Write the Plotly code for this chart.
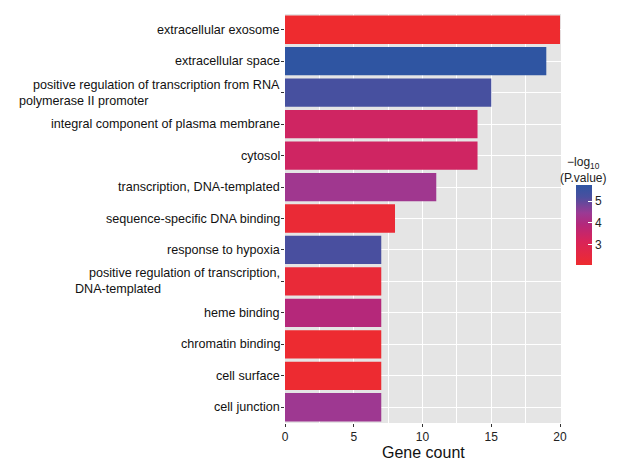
import plotly.graph_objects as go

terms = [
    "extracellular exosome",
    "extracellular space",
    "positive regulation of transcription from RNA<br>polymerase II promoter",
    "integral component of plasma membrane",
    "cytosol",
    "transcription, DNA-templated",
    "sequence-specific DNA binding",
    "response to hypoxia",
    "positive regulation of transcription,<br>DNA-templated",
    "heme binding",
    "chromatin binding",
    "cell surface",
    "cell junction",
]
gene_count = [20, 19, 15, 14, 14, 11, 8, 7, 7, 7, 7, 7, 7]
neg_log10_p = [2.08, 5.74, 5.25, 3.35, 3.35, 4.35, 2.25, 5.2, 2.3, 3.9, 2.12, 2.12, 4.4]
cbar_ticks = [3, 4, 5]
x_ticks = [0, 5, 10, 15, 20]

cmin, cmax = 2.07, 5.74
colorscale = [
    [0.0, "#EE2B2F"],
    [0.3, "#D8245A"],
    [0.5, "#B5287A"],
    [0.65, "#9B3A94"],
    [0.85, "#4A4F9F"],
    [1.0, "#2F55A2"],
]

FONT = "Liberation Sans, Arial"
ids = list(range(len(terms)))

fig = go.Figure()
fig.add_trace(go.Bar(
    x=gene_count,
    y=ids,
    orientation="h",
    width=0.9,
    marker=dict(
        color=neg_log10_p,
        colorscale=colorscale,
        cmin=cmin,
        cmax=cmax,
        line=dict(width=0),
        colorbar=dict(
            thickness=16,
            len=80,
            lenmode="pixels",
            x=1.054,
            xanchor="left",
            y=0.484,
            yanchor="middle",
            xpad=0,
            ypad=0,
            outlinewidth=0,
            tickvals=cbar_ticks,
            ticktext=[str(t) for t in cbar_ticks],
            ticks="inside",
            ticklen=4,
            tickcolor="white",
            tickfont=dict(size=12, color="#222", family=FONT),
        ),
    ),
    showlegend=False,
    hoverinfo="skip",
))

for i, t in enumerate(terms):
    txt = t
    if "<br>" in t:
        first, second = t.split("<br>", 1)
        txt = "&nbsp;&nbsp;&nbsp;&nbsp;" + first + "<br>" + second
    fig.add_annotation(
        x=0, xref="paper", xshift=-3, xanchor="right",
        y=i, yref="y", yanchor="middle",
        text=txt, showarrow=False, align="left",
        font=dict(size=12.6, color="#111", family=FONT),
    )

# colorbar title
fig.add_annotation(
    x=1.054, xref="paper", xshift=7, xanchor="center",
    y=0.484, yref="paper", yshift=38, yanchor="bottom",
    text="−log<sub>10</sub><br>(P.value)", showarrow=False, align="center",
    font=dict(size=12, color="#222", family=FONT),
)

# x-axis title
fig.add_annotation(
    x=0.5, xref="paper", xanchor="center",
    y=0, yref="paper", yshift=-29, yanchor="middle",
    text="Gene count", showarrow=False,
    font=dict(size=16, color="#111", family=FONT),
)

fig.update_layout(
    width=618,
    height=460,
    margin=dict(l=285, r=57, t=14, b=37, autoexpand=False),
    paper_bgcolor="white",
    plot_bgcolor="#E5E5E5",
    font=dict(family=FONT, color="#222"),
    bargap=0.1,
    xaxis=dict(
        range=[0, 20.07],
        tickvals=x_ticks,
        ticks="outside",
        ticklen=3,
        tickcolor="#333",
        tickfont=dict(size=12, color="#222"),
        showgrid=True,
        gridcolor="white",
        gridwidth=1.1,
        zeroline=False,
        showline=False,
        automargin=False,
        minor=dict(tickmode="linear", tick0=2.5, dtick=5, showgrid=True,
                   gridcolor="white", gridwidth=0.5, ticks=""),
    ),
    yaxis=dict(
        tickvals=ids,
        showticklabels=False,
        range=[len(terms) - 0.5, -0.5],
        ticks="outside",
        ticklen=3,
        tickcolor="#333",
        showgrid=True,
        gridcolor="white",
        gridwidth=1.1,
        zeroline=False,
        showline=False,
        automargin=False,
    ),
)

fig.write_html(
    "out.html",
    config={"displayModeBar": False},
    post_script="document.body.style.margin='0';document.body.style.overflow='hidden';",
)
